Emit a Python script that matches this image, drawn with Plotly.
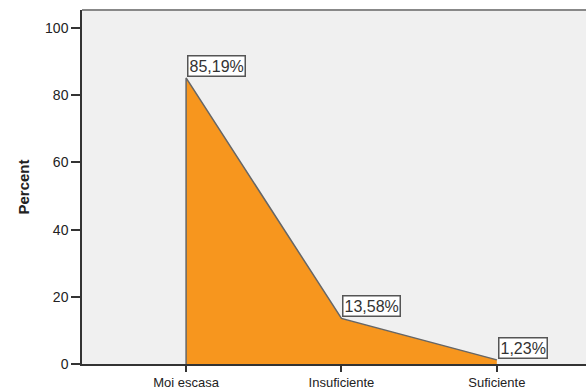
import plotly.graph_objects as go

categories = ["Moi escasa", "Insuficiente", "Suficiente"]
percent = [85.19, 13.58, 1.23]
labels = ["85,19%", "13,58%", "1,23%"]
y_ticks = [0, 20, 40, 60, 80, 100]

# area outline: vertical edge at the first category, then through each value
xs = [categories[0]] + categories
ys = [0] + percent

fig = go.Figure()
fig.add_trace(go.Scatter(
    x=xs, y=ys, mode="lines",
    fill="tozeroy", fillcolor="#F7961E",
    line=dict(color="#666666", width=1.5),
    hoverinfo="skip", showlegend=False,
))

for cat, val, lab in zip(categories, percent, labels):
    fig.add_annotation(
        x=cat, y=val, text=lab, showarrow=False,
        xanchor="left", yanchor="bottom", xshift=1, yshift=1,
        font=dict(family="Liberation Sans, Arial", size=16, color="#333333"),
        bgcolor="white", bordercolor="#555555", borderwidth=1.5, borderpad=1,
    )

# top border of the plot area
fig.add_shape(type="line", xref="paper", yref="paper", x0=0, x1=1, y0=1, y1=1,
              line=dict(color="#888888", width=2))

fig.update_layout(
    width=586, height=391,
    margin=dict(l=82, r=0, t=10, b=27),
    paper_bgcolor="white", plot_bgcolor="#F0F0F0",
    font=dict(family="Liberation Sans, Arial", color="#222222"),
    xaxis=dict(
        type="category", range=[-0.67, 2.574], automargin=False,
        showgrid=False, zeroline=False,
        showline=True, linecolor="#333333", linewidth=1.5,
        ticks="outside", ticklen=6, tickcolor="#333333", tickwidth=1.5,
        tickfont=dict(size=13, color="#222222"),
    ),
    yaxis=dict(
        range=[0, 105.4], tickvals=y_ticks, automargin=False,
        showgrid=False, zeroline=False,
        showline=True, linecolor="#333333", linewidth=1.5,
        ticks="outside", ticklen=9, tickcolor="#333333", tickwidth=1.5,
        tickfont=dict(size=14, color="#222222"),
        title=dict(text="<b>Percent</b>", font=dict(size=15, color="#222222"), standoff=12),
    ),
)

fig.write_html("out.html")
